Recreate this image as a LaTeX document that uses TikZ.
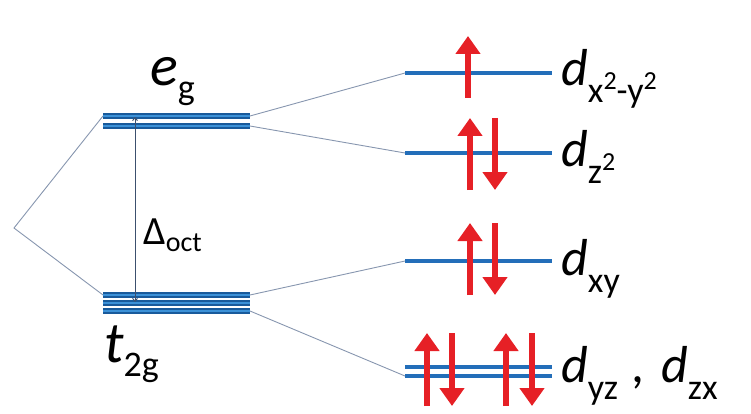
\documentclass[tikz,border=0pt]{standalone}
\usepackage{fontspec}
\setmainfont{Carlito}
\usetikzlibrary{arrows.meta}
\definecolor{levelblue}{RGB}{60,145,215}
\definecolor{leveledge}{RGB}{25,90,155}
\definecolor{dline}{RGB}{35,110,185}
\definecolor{tieline}{RGB}{135,150,175}
\definecolor{spinred}{RGB}{230,32,38}
\definecolor{gapline}{RGB}{60,80,110}
\newcommand{\bigtxt}{\fontsize{58}{58}\selectfont}
\newcommand{\midtxt}{\fontsize{52}{52}\selectfont}
\newcommand{\subtxt}{\fontsize{36}{36}\selectfont}
\newcommand{\suptxt}{\fontsize{26}{26}\selectfont}
\begin{document}
\begin{tikzpicture}[x=1pt,y=-1pt,
  level/.style={draw=leveledge, double=levelblue, line width=1.4pt, double distance=2.4pt},
  dlevel/.style={dline, line width=3.5pt},
  tie/.style={tieline, line width=0.9pt},
  spin/.style={spinred, line width=6.5pt, -{Triangle[length=18pt,width=24pt]}},
  lbl/.style={anchor=base west, inner sep=0pt, text=black}]
\useasboundingbox (0,0) rectangle (751,414);

% free-ion level (vertex of the splitting)
\coordinate (ion) at (14,228);

% octahedral e_g and t_2g levels
\coordinate (egAL) at (103,116); \coordinate (egAR) at (250,116);
\coordinate (egBL) at (103,126); \coordinate (egBR) at (250,126);
\coordinate (tAL) at (103,295); \coordinate (tAR) at (250,295);
\coordinate (tBL) at (103,303); \coordinate (tBR) at (250,303);
\coordinate (tCL) at (103,311); \coordinate (tCR) at (250,311);

% individual d levels
\coordinate (x2L) at (405,73);  \coordinate (x2R) at (552,73);
\coordinate (z2L) at (405,153); \coordinate (z2R) at (552,153);
\coordinate (xyL) at (405,261); \coordinate (xyR) at (552,261);
\coordinate (yzL) at (405,367); \coordinate (yzR) at (552,367);
\coordinate (zxL) at (405,376); \coordinate (zxR) at (552,376);

% connecting lines
\draw[tie] (egAL) -- (ion) -- (tAL);
\draw[tie] (egAR) -- (x2L);
\draw[tie] (egBR) -- (z2L);
\draw[tie] (tAR) -- (xyL);
\draw[tie] (tCR) -- (zxL);

% levels
\draw[level] (egAL) -- (egAR);
\draw[level] (egBL) -- (egBR);
\draw[level] (tAL) -- (tAR);
\draw[level] (tBL) -- (tBR);
\draw[level] (tCL) -- (tCR);
\foreach \l in {x2,z2,xy,yz,zx} \draw[dlevel] (\l L) -- (\l R);

% splitting energy
\coordinate (gapTop) at (135,117);
\coordinate (gapBot) at (135,302);
\draw[gapline, line width=0.9pt, {Straight Barb[length=3pt,width=5pt]}-{Straight Barb[length=3pt,width=5pt]}] (gapTop) -- (gapBot);
\node[lbl] (delta) at (143,244) {\fontsize{40}{40}\selectfont Δ\raisebox{-7pt}{\fontsize{28}{28}\selectfont oct}};

% level labels
\node[lbl] (eg) at (150,86) {\bigtxt\itshape e\raisebox{-14pt}{\subtxt\upshape g}};
\node[lbl] (t2g) at (104,362) {\bigtxt\itshape t\raisebox{-14pt}{\subtxt\upshape 2g}};
\node[lbl] (lx2) at (561,86) {\midtxt\itshape d\raisebox{-17pt}{\subtxt\upshape x\raisebox{13pt}{\suptxt 2}-y\raisebox{13pt}{\suptxt 2}}};
\node[lbl] (lz2) at (561,167) {\midtxt\itshape d\raisebox{-17pt}{\subtxt\upshape z\raisebox{13pt}{\suptxt 2}}};
\node[lbl] (lxy) at (561,275) {\midtxt\itshape d\raisebox{-17pt}{\subtxt\upshape xy}};
\node[lbl] (lyz) at (561,382) {\midtxt\itshape d\raisebox{-17pt}{\subtxt\upshape yz}\hspace{14pt},\hspace{16pt}d\raisebox{-17pt}{\subtxt\upshape zx}};

% electrons
\coordinate (e1a) at (468,98);  \coordinate (e1b) at (468,36);
\coordinate (e2a) at (470,190); \coordinate (e2b) at (470,118);
\coordinate (e3a) at (495,118); \coordinate (e3b) at (495,190);
\coordinate (e4a) at (470,295); \coordinate (e4b) at (470,223);
\coordinate (e5a) at (495,223); \coordinate (e5b) at (495,295);
\coordinate (e6a) at (427,406); \coordinate (e6b) at (427,333);
\coordinate (e7a) at (452,333); \coordinate (e7b) at (452,406);
\coordinate (e8a) at (506,406); \coordinate (e8b) at (506,333);
\coordinate (e9a) at (532,333); \coordinate (e9b) at (532,406);
\foreach \e in {1,...,9} \draw[spin] (e\e a) -- (e\e b);
\end{tikzpicture}
\end{document}
